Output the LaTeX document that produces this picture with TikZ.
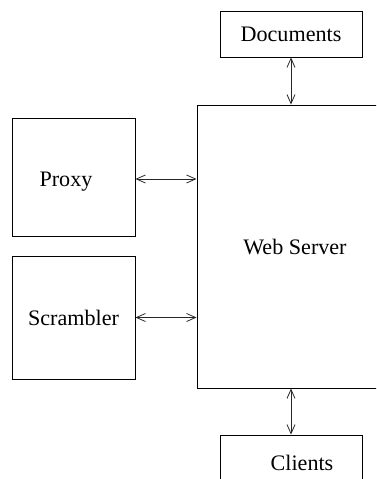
\documentclass[tikz,border=0pt]{standalone}
\usepackage{fontspec}
\setmainfont{Liberation Serif}
\usetikzlibrary{arrows.meta}
\begin{document}
\begin{tikzpicture}[x=1bp,y=-1bp,
  box/.style={draw=black,line width=0.9bp,rectangle,inner sep=0pt,
    font=\fontsize{22.2}{26}\selectfont},
  txt/.style={font=\fontsize{22.2}{26}\selectfont},
  link/.style={line width=0.8bp,draw=black!85,
    {Straight Barb[length=9bp,width=8bp]}-{Straight Barb[length=9bp,width=8bp]}}]
\useasboundingbox (0,0) rectangle (376,479);
\clip (0,0) rectangle (376,479);
\node[box,minimum width=142bp,minimum height=46bp] (docs) at (291,34) {Documents};
\node[box,minimum width=196bp,minimum height=283bp] (web) at (295,246.5) {Web Server};
\node[box,minimum width=123bp,minimum height=118bp] (proxy) at (73.5,177.5) {};
\node[txt] (proxyt) at (66,182) {Proxy};
\node[box,minimum width=123bp,minimum height=123bp] (scr) at (73.5,317.5) {Scrambler};
\node[box,minimum width=142bp,minimum height=70bp] (cli) at (291,470) {};
\node[txt] (clit) at (302,463) {Clients};
\draw[link] (docs.south) -- (docs.south |- web.north);
\draw[link] ([yshift=-1.5bp]proxy.east) -- ([yshift=-1.5bp]proxy.east -| web.west);
\draw[link] (scr.east) -- (scr.east -| web.west);
\draw[link] (cli.north |- web.south) -- (cli.north);
\end{tikzpicture}
\end{document}
